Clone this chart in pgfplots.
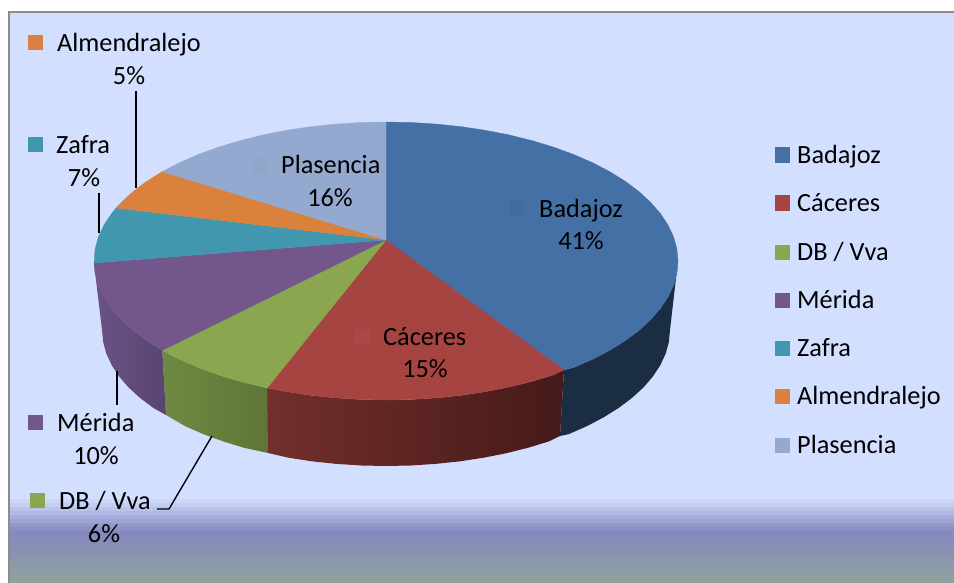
\documentclass[border=0pt]{standalone}
\usepackage{pgfplots}
\pgfplotsset{compat=1.18}
\usepackage{fontspec}
\setmainfont{Carlito}
\definecolor{cBad}{HTML}{4470A6}
\definecolor{cCac}{HTML}{A64442}
\definecolor{cDB}{HTML}{8AA64E}
\definecolor{cMer}{HTML}{72568C}
\definecolor{cZaf}{HTML}{4097AE}
\definecolor{cAlm}{HTML}{DA823D}
\definecolor{cPla}{HTML}{93A9CF}
\definecolor{bg}{HTML}{D3DFFE}
\definecolor{bgmid}{HTML}{8488C0}
\definecolor{bgend}{HTML}{8FA39C}
\begin{document}
\begin{tikzpicture}
\begin{axis}[
  name=a,
  scale only axis, width=954pt, height=583pt,
  xmin=0, xmax=954, ymin=0, ymax=583, y dir=reverse,
  hide axis,
  nodes={font=\fontsize{26.3}{30}\selectfont, inner sep=0pt, text=black, yshift=-2.8pt},
  every axis plot/.append style={mark=none},
]
% background
\addplot[draw=none, fill=white] coordinates {(0,0)(954,0)(954,583)(0,583)} --cycle;
\addplot[draw=none, fill=bg] coordinates {(9,12)(954,12)(954,499)(9,499)} --cycle;
\addplot[draw=none, fill=bg!92!bgmid] coordinates {(9,499)(954,499)(954,503)(9,503)} --cycle;
\addplot[draw=none, fill=bg!80!bgmid] coordinates {(9,503)(954,503)(954,507)(9,507)} --cycle;
\addplot[draw=none, fill=bg!68!bgmid] coordinates {(9,507)(954,507)(954,511)(9,511)} --cycle;
\addplot[draw=none, fill=bg!56!bgmid] coordinates {(9,511)(954,511)(954,515)(9,515)} --cycle;
\addplot[draw=none, fill=bg!44!bgmid] coordinates {(9,515)(954,515)(954,519)(9,519)} --cycle;
\addplot[draw=none, fill=bg!32!bgmid] coordinates {(9,519)(954,519)(954,523)(9,523)} --cycle;
\addplot[draw=none, fill=bg!20!bgmid] coordinates {(9,523)(954,523)(954,527)(9,527)} --cycle;
\addplot[draw=none, fill=bg!8!bgmid] coordinates {(9,527)(954,527)(954,531)(9,531)} --cycle;
\addplot[draw=none, top color=bgmid, bottom color=bgend] coordinates {(9,531)(954,531)(954,583)(9,583)} --cycle;
\addplot[draw=black!45, line width=2pt] coordinates {(9,583)(9,12)(954,12)};
% side walls
\addplot[draw=none, fill=cBad!40!black] coordinates {
 (678,261)(676.9,273.1)(673.6,285.1)(668,297)(660.4,308.5)(650.6,319.7)(638.9,330.5)(625.2,340.7)(609.7,350.4)(592.5,359.3)(573.7,367.5)(564,370)
 (560,436)(568.6,434.2)(586.8,426.2)(603.5,417.4)(618.6,408)(631.9,398)(643.4,387.5)(652.9,376.5)(660.3,365.2)(665.7,353.6)(668.9,341.9)(670,330)} --cycle;
\addplot[draw=none, left color={rgb,255:red,115;green,47;blue,44}, right color={rgb,255:red,69;green,26;blue,24}] coordinates {
 (564,370)(553.5,374.9)(532,381.4)(509.4,387)(485.9,391.6)(461.6,395.3)(436.7,397.9)(411.5,399.5)(386,400)(360.5,399.5)(335.3,397.9)(310.4,395.3)(286.1,391.6)(267.2,388)
 (268,453)(288.9,457.8)(312.5,461.4)(336.7,463.9)(361.2,465.5)(386,466)(410.8,465.5)(435.3,463.9)(459.5,461.4)(483.1,457.8)(506,453.3)(528,447.8)(548.9,441.4)(560,436)} --cycle;
\addplot[draw=none, left color={rgb,255:red,111;green,138;blue,66}, right color={rgb,255:red,95;green,117;blue,56}] coordinates {
 (267.2,388)(240,381.4)(218.5,374.9)(198.3,367.5)(179.5,359.3)(162.3,350.4)
 (166,415)(185.2,426.2)(203.4,434.2)(223.1,441.4)(244,447.8)(268,453)} --cycle;
\addplot[draw=none, left color={rgb,255:red,107;green,83;blue,134}, right color={rgb,255:red,87;green,68;blue,111}] coordinates {
 (162.3,350.4)(146.8,340.7)(133.1,330.5)(121.4,319.7)(111.6,308.5)(104,297)(98.4,285.1)(95.1,273.1)(94,263)
 (102,330)(103.1,341.9)(106.3,353.6)(111.7,365.2)(119.1,376.5)(128.6,387.5)(140.1,398)(153.4,408)(166,415)} --cycle;
% top faces
\addplot[draw=cBad, line width=0.3pt, fill=cBad] coordinates {(386,240)
 (386,122)(411.5,122.5)(436.7,124.1)(461.6,126.7)(485.9,130.4)(509.4,135)(532,140.6)(553.5,147.1)(573.7,154.5)(592.5,162.7)(609.7,171.6)(625.2,181.3)(638.9,191.5)(650.6,202.3)(660.4,213.5)(668,225)(673.6,236.9)(676.9,248.9)(678,261)
 (676.9,273.1)(673.6,285.1)(668,297)(660.4,308.5)(650.6,319.7)(638.9,330.5)(625.2,340.7)(609.7,350.4)(592.5,359.3)(573.7,367.5)(564,370)} --cycle;
\addplot[draw=cCac, line width=0.3pt, fill=cCac] coordinates {(386,240)
 (564,370)(553.5,374.9)(532,381.4)(509.4,387)(485.9,391.6)(461.6,395.3)(436.7,397.9)(411.5,399.5)(386,400)(360.5,399.5)(335.3,397.9)(310.4,395.3)(286.1,391.6)(267.2,388)} --cycle;
\addplot[draw=cDB, line width=0.3pt, fill=cDB] coordinates {(386,240)
 (267.2,388)(240,381.4)(218.5,374.9)(198.3,367.5)(179.5,359.3)(162.3,350.4)} --cycle;
\addplot[draw=cMer, line width=0.3pt, fill=cMer] coordinates {(386,240)
 (162.3,350.4)(146.8,340.7)(133.1,330.5)(121.4,319.7)(111.6,308.5)(104,297)(98.4,285.1)(95.1,273.1)(94,263)} --cycle;
\addplot[draw=cZaf, line width=0.3pt, fill=cZaf] coordinates {(386,240)
 (94,263)(95.1,248.9)(98.4,236.9)(104,225)(111.6,213.5)(116,208)} --cycle;
\addplot[draw=cAlm, line width=0.3pt, fill=cAlm] coordinates {(386,240)
 (116,208)(121.4,202.3)(133.1,191.5)(146.8,181.3)(162.3,171.6)} --cycle;
\addplot[draw=cPla, line width=0.3pt, fill=cPla] coordinates {(386,240)
 (162.3,171.6)(179.5,162.7)(198.3,154.5)(218.5,147.1)(240,140.6)(262.6,135)(286.1,130.4)(310.4,126.7)(335.3,124.1)(360.5,122.5)(386,122)} --cycle;
% leader lines
\addplot[black, line width=1.4pt] coordinates {(136,91)(136,188)};
\addplot[black, line width=1.4pt] coordinates {(99,193)(99,233)};
\addplot[black, line width=1.4pt] coordinates {(117,371)(117,405)};
\addplot[black, line width=1.4pt] coordinates {(212,436)(169,509)(157,509)};
% legend keys
\pgfplotsset{key/.style={only marks, mark=square*, mark size=7.2pt, mark options={draw=#1, fill=#1, line width=0.6pt}}}
\addplot[key=cBad] coordinates {(782.5,155)};
\addplot[key=cCac] coordinates {(782.5,203)};
\addplot[key=cDB] coordinates {(782.5,252)};
\addplot[key=cMer] coordinates {(782.5,300)};
\addplot[key=cZaf] coordinates {(782.5,348)};
\addplot[key=cAlm] coordinates {(782.5,396)};
\addplot[key=cPla] coordinates {(782.5,445)};
% data label keys
\addplot[key=cAlm] coordinates {(35.5,42.5)};
\addplot[key=cZaf] coordinates {(35.5,144.5)};
\addplot[key=cMer] coordinates {(35.5,422)};
\addplot[key=cDB] coordinates {(37.5,500.5)};
\addplot[key=cPla!98!black] coordinates {(260,166)};
\addplot[key=cBad!97!black] coordinates {(517,208)};
\addplot[key=cCac!97!white] coordinates {(362,336)};
% legend text
\node[anchor=west] at (axis cs:797,155) {\strut Badajoz};
\node[anchor=west] at (axis cs:797,203) {\strut Cáceres};
\node[anchor=west] at (axis cs:797,252) {\strut DB / Vva};
\node[anchor=west] at (axis cs:797,300) {\strut Mérida};
\node[anchor=west] at (axis cs:797,348) {\strut Zafra};
\node[anchor=west] at (axis cs:797,396) {\strut Almendralejo};
\node[anchor=west] at (axis cs:797,445) {\strut Plasencia};
% data labels
\node[anchor=west] at (axis cs:57,43) {\strut Almendralejo};
\node at (axis cs:129,76) {\strut 5\%};
\node[anchor=west] at (axis cs:56,145) {\strut Zafra};
\node at (axis cs:84,178) {\strut 7\%};
\node[anchor=west] at (axis cs:57,423) {\strut Mérida};
\node at (axis cs:96,456) {\strut 10\%};
\node[anchor=west] at (axis cs:59,501) {\strut DB / Vva};
\node at (axis cs:104,534) {\strut 6\%};
\node[anchor=west] at (axis cs:281,165) {\strut Plasencia};
\node at (axis cs:330,198) {\strut 16\%};
\node[anchor=west] at (axis cs:539,209) {\strut Badajoz};
\node at (axis cs:581,241) {\strut 41\%};
\node[anchor=west] at (axis cs:383,337) {\strut Cáceres};
\node at (axis cs:425,369) {\strut 15\%};
\end{axis}
\pgfresetboundingbox
\useasboundingbox (a.south west) rectangle (a.north east);
\end{tikzpicture}
\end{document}
